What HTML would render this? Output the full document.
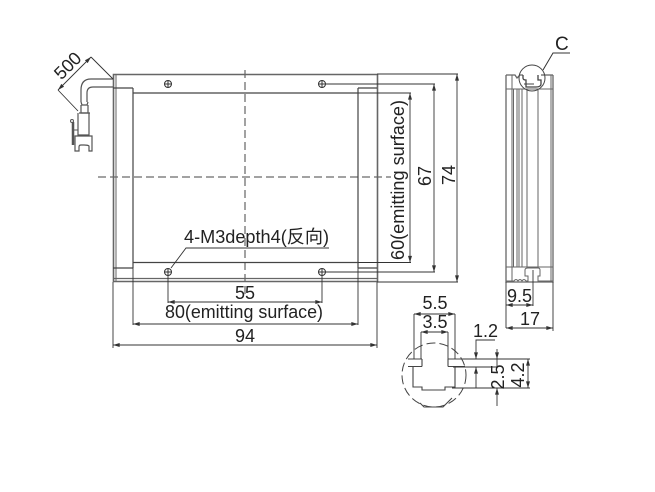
<!DOCTYPE html>
<html><head><meta charset="utf-8"><style>
html,body{margin:0;padding:0;background:#fff;width:655px;height:492px;overflow:hidden}
svg{display:block}
text{font-family:"Liberation Sans","Noto Sans CJK SC",sans-serif;fill:#222;font-size:18px}
</style></head><body>
<svg width="655" height="492" viewBox="0 0 655 492" fill="none" stroke-linecap="butt">
<defs>
<marker id="a" viewBox="0 0 10 6" refX="10" refY="3" markerWidth="7" markerHeight="4" markerUnits="userSpaceOnUse" orient="auto-start-reverse"><path d="M0 0L10 3L0 6z" fill="#333"/></marker>
</defs>
<!-- center lines -->
<g stroke="#444" stroke-width="1" stroke-dasharray="8 4">
<path d="M98 177H391"/><path d="M245 70V296"/>
</g>
<!-- front view -->
<g stroke="#666" stroke-width="1.6">
<path d="M113.500 74.500H377.500V281.500H113.500Z"/>
<path d="M116 74.500V281" stroke-width="1"/>
<path d="M114 278.500H377" stroke-width="1.2"/>
</g>
<g stroke="#444" stroke-width="1.2">
<path d="M133 93H358M133 262.500H358"/>
<path d="M133 88V268M358 88V268"/>
<path d="M113 88H133M113 268H133M358 88H377M358 268H377"/>
</g>
<!-- holes -->
<g stroke="#333" stroke-width="1">
<circle cx="168" cy="84" r="3.500"/><path d="M164 84H172M168 80V88"/>
<circle cx="322" cy="84" r="3.500"/><path d="M318 84H326M322 80V88"/>
<circle cx="168" cy="272" r="3.500"/><path d="M164 272H172M168 268V276"/>
<circle cx="322" cy="272" r="3.500"/><path d="M318 272H326M322 268V276"/>
</g>
<!-- right dimensions -->
<g stroke="#333" stroke-width="0.9">
<path d="M377 74H458M377 282H458"/>
<path d="M326 84H435M326 272H435"/>
<path d="M358 93H411M358 262.500H411"/>
<path d="M457 74V282" marker-start="url(#a)" marker-end="url(#a)"/>
<path d="M434 84V272" marker-start="url(#a)" marker-end="url(#a)"/>
<path d="M410 93V262.500" marker-start="url(#a)" marker-end="url(#a)"/>
<!-- bottom dimensions -->
<path d="M168 276V303M322 276V303"/>
<path d="M133 268V325M358 268V325"/>
<path d="M113 282V348M377 282V348"/>
<path d="M168 302H322" marker-start="url(#a)" marker-end="url(#a)"/>
<path d="M133 324H358" marker-start="url(#a)" marker-end="url(#a)"/>
<path d="M113 345H377" marker-start="url(#a)" marker-end="url(#a)"/>
<!-- hole leader -->
<path d="M171 268L186 248H329"/>
</g>
<text x="245" y="299" text-anchor="middle">55</text>
<text x="244" y="318" text-anchor="middle" textLength="158" lengthAdjust="spacingAndGlyphs">80(emitting surface)</text>
<text x="245" y="342" text-anchor="middle">94</text>
<text x="184" y="243" textLength="145" lengthAdjust="spacingAndGlyphs">4-M3depth4(反向)</text>
<text transform="translate(404 180) rotate(-90)" text-anchor="middle" textLength="160" lengthAdjust="spacingAndGlyphs">60(emitting surface)</text>
<text transform="translate(431 176) rotate(-90)" text-anchor="middle">67</text>
<text transform="translate(455 175) rotate(-90)" text-anchor="middle">74</text>
<!-- cable -->
<g stroke="#555" stroke-width="1.2">
<path d="M113 79H91Q81 79 81 90V102"/>
<path d="M113 87H93Q87 87 87 93V102"/>
<path d="M81 102L82 105H87L88 102"/>
<path d="M81 105V113H88V105"/>
<path d="M79 113H90M78 113V135H89V113"/>
<path d="M75 136H92V151H89V146Q88 145 84 145H81Q79 145 79 147V151H75Z"/>
</g>
<path d="M73 122V145" stroke="#555" stroke-width="2.500"/>
<circle cx="72" cy="121" r="1.500" stroke="#555"/>
<path d="M73 130H78" stroke="#555"/>
<!-- 500 dim -->
<g stroke="#333" stroke-width="0.9">
<path d="M91 57L113 79M58 90L78 111"/>
<path d="M91 57L58 90" marker-start="url(#a)" marker-end="url(#a)"/>
</g>
<text transform="translate(72 70) rotate(-45)" text-anchor="middle">500</text>
<!-- side view -->
<g stroke="#666" stroke-width="1.3">
<path d="M506 75V282H553V75"/>
<path d="M512 75V282M513.500 89V267M517 89V267M519 89V267M522 89V267M527 89V267M538 89V267M551 75V282" stroke-width="1"/>
<path d="M506 89H553M506 267H553" stroke-width="1"/>
<path d="M506 75H515L517 78L520 75H523"/>
<path d="M541 75H553"/>
<path d="M506 281H514Q516 278 518 281Q520 278 522 281Q524 278 526 281H528V276H525V270Q525 268 528 268H538Q540 268 540 270V276H538V281H553" stroke-width="1"/>
</g>
<path d="M523 75V78Q523 80 526 80V87H536Q541 87 541 84V80H538V75" stroke="#444" stroke-width="1.300"/>
<path d="M524 84H534" stroke="#444"/>
<circle cx="532" cy="78" r="13" stroke="#444" stroke-width="1"/>
<path d="M543 70L553 53H570" stroke="#333" stroke-width="1"/>
<text x="555" y="50" style="font-size:19px">C</text>
<g stroke="#333" stroke-width="0.9">
<path d="M506 282V328M553 282V331"/>
<path d="M533 270V306"/>
<path d="M506 305H533" marker-start="url(#a)" marker-end="url(#a)"/>
<path d="M506 328H553" marker-start="url(#a)" marker-end="url(#a)"/>
</g>
<text x="507" y="302">9.5</text>
<text x="530" y="325" text-anchor="middle">17</text>
<!-- detail -->
<circle cx="434" cy="375" r="32" stroke="#444" stroke-width="1" stroke-dasharray="9 4"/>
<g stroke="#444" stroke-width="1.100">
<path d="M408 359H422M408 366.500H422M422 359V366.500"/>
<path d="M448 359V366.500M448 359H465M448 366.500H465"/>
<path d="M413 366.500V387H422V390H445V387H455V366.500"/>
<path d="M420 403L424 407H443L452 398"/>
</g>
<g stroke="#333" stroke-width="0.9">
<path d="M414 314V359M455 314V359"/>
<path d="M421 332V359M448 332V359"/>
<path d="M414 314H455" marker-start="url(#a)" marker-end="url(#a)"/>
<path d="M421 332H448" marker-start="url(#a)" marker-end="url(#a)"/>
<path d="M463 359H530M453 367H498M452 388H530"/>
<path d="M495 340H476V359" marker-end="url(#a)"/>
<path d="M476 388V367" marker-end="url(#a)"/>
<path d="M497 349V359" marker-end="url(#a)"/>
<path d="M497 406V388" marker-end="url(#a)"/>
<path d="M497 359V367"/>
<path d="M528 359V388" marker-start="url(#a)" marker-end="url(#a)"/>
</g>
<text x="435" y="309" text-anchor="middle">5.5</text>
<text x="435" y="328" text-anchor="middle">3.5</text>
<text x="473" y="337">1.2</text>
<text transform="translate(504 377) rotate(-90)" text-anchor="middle">2.5</text>
<text transform="translate(524 375) rotate(-90)" text-anchor="middle">4.2</text>
</svg>
</body></html>
